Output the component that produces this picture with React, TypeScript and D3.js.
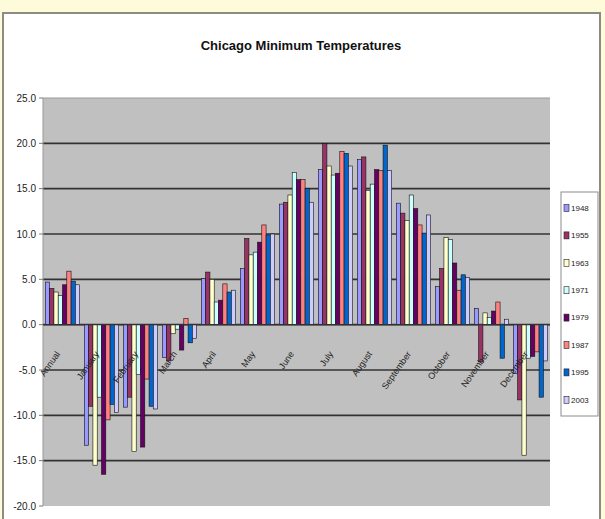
import React from "react";
import * as d3 from "d3";

const categories = ["Annual", "January", "February", "March", "April", "May", "June", "July", "August", "September", "October", "November", "December"];
const years = ["1948", "1955", "1963", "1971", "1979", "1987", "1995", "2003"];

const s1948 = [4.7, -13.3, -9.1, -3.6, 5.1, 6.2, 13.3, 17.1, 18.2, 13.4, 4.2, 1.8, -5.4];
const s1955 = [4.0, -9.0, -8.0, -4.0, 5.8, 9.5, 13.5, 20.0, 18.5, 12.3, 6.2, -4.1, -8.3];
const s1963 = [3.6, -15.5, -14.0, -1.0, 5.0, 7.7, 14.3, 17.5, 14.8, 11.5, 9.6, 1.3, -14.4];
const s1971 = [3.2, -8.0, -5.5, -0.5, 2.5, 8.0, 16.8, 16.5, 15.5, 14.3, 9.4, 0.8, -3.7];
const s1979 = [4.4, -16.5, -13.5, -2.8, 2.7, 9.1, 16.0, 16.7, 17.1, 12.8, 6.8, 1.5, -3.5];
const s1987 = [5.9, -10.5, -6.0, 0.7, 4.5, 11.0, 16.0, 19.1, 17.0, 11.0, 3.8, 2.5, -3.0];
const s1995 = [4.8, -8.8, -9.0, -2.0, 3.6, 9.9, 15.0, 18.9, 19.8, 10.1, 5.5, -3.7, -8.0];
const s2003 = [4.4, -9.7, -9.3, -1.5, 3.8, 10.0, 13.5, 17.5, 17.0, 12.1, 5.2, 0.6, -4.0];

const seriesValues = [s1948, s1955, s1963, s1971, s1979, s1987, s1995, s2003];
const seriesColors = ["#9999FF", "#993366", "#FFFFCC", "#CCFFFF", "#660066", "#FF8080", "#0066CC", "#CCCCFF"];
const yTicks = [25, 20, 15, 10, 5, 0, -5, -10, -15, -20];

const W = 605;
const H = 519;
const plot = { left: 43, right: 550, top: 98, bottom: 506 };

export default function App() {
  const y = d3.scaleLinear().domain([-20, 25]).range([plot.bottom, plot.top]);
  const x = d3.scaleBand<string>().domain(categories).range([plot.left, plot.right]).paddingInner(0).paddingOuter(0);
  const bw = x.bandwidth();
  const inner = d3.scaleBand<string>().domain(years).range([bw * 0.06, bw * 0.94]).padding(0);
  const fmt = (v: number) => v.toFixed(1);

  return (
    <svg width={W} height={H} style={{ position: "absolute", left: 0, top: 0, display: "block" }} fontFamily="'Liberation Sans', Arial, sans-serif">
      <rect x={0} y={0} width={W} height={H} fill="#FDFBDA" />
      <rect x={3} y={13} width={597} height={512} fill="#FFFFFF" stroke="#8C8C84" strokeWidth={2} />
      <text x={301} y={50} textAnchor="middle" fontSize={13} fontWeight="bold" fill="#111">Chicago Minimum Temperatures</text>

      <rect x={plot.left} y={plot.top} width={plot.right - plot.left} height={plot.bottom - plot.top} fill="#C0C0C0" />
      <line x1={plot.left} x2={plot.right} y1={y(25)} y2={y(25)} stroke="#9a9a9a" strokeWidth={1} />
      {yTicks.filter((t) => t < 25 && t > -20).map((t) => (
        <line key={"g" + t} x1={plot.left} x2={plot.right} y1={y(t)} y2={y(t)} stroke="#333" strokeWidth={1.6} />
      ))}
      <line x1={plot.left} x2={plot.left} y1={plot.top} y2={plot.bottom} stroke="#999" strokeWidth={1} />
      {yTicks.map((t) => (
        <g key={"t" + t}>
          <line x1={plot.left - 4} x2={plot.left} y1={y(t)} y2={y(t)} stroke="#777" />
          <text x={36} y={y(t)} dy="0.35em" textAnchor="end" fontSize={10} fill="#222">{fmt(t)}</text>
        </g>
      ))}

      {categories.map((c, ci) => (
        <g key={c} transform={`translate(${x(c)},0)`}>
          {years.map((yr, si) => {
            const v = seriesValues[si][ci];
            const y0 = y(0);
            const yv = y(v);
            return (
              <rect key={yr} x={inner(yr)} y={Math.min(y0, yv)} width={inner.bandwidth()} height={Math.abs(yv - y0)}
                fill={seriesColors[si]} stroke="#111" strokeWidth={0.6} />
            );
          })}
        </g>
      ))}
      <line x1={plot.left} x2={plot.right} y1={y(0)} y2={y(0)} stroke="#333" strokeWidth={1.4} />

      {categories.map((c) => {
        const cx = (x(c) as number) + bw / 2 - 2;
        const cy = 354;
        return (
          <text key={"l" + c} x={cx} y={cy} textAnchor="end" fontSize={9} fill="#222" transform={`rotate(-55 ${cx} ${cy})`}>{c}</text>
        );
      })}

      <rect x={561} y={192} width={37} height={224} fill="#FFFFFF" stroke="#8C8C8C" strokeWidth={1} />
      {years.map((yr, i) => {
        const cy = 208 + i * 27.4;
        return (
          <g key={"lg" + yr}>
            <rect x={564} y={cy - 3.5} width={5} height={7} fill={seriesColors[i]} stroke="#222" strokeWidth={0.6} />
            <text x={571} y={cy} dy="0.35em" fontSize={8} fill="#222">{yr}</text>
          </g>
        );
      })}
    </svg>
  );
}
